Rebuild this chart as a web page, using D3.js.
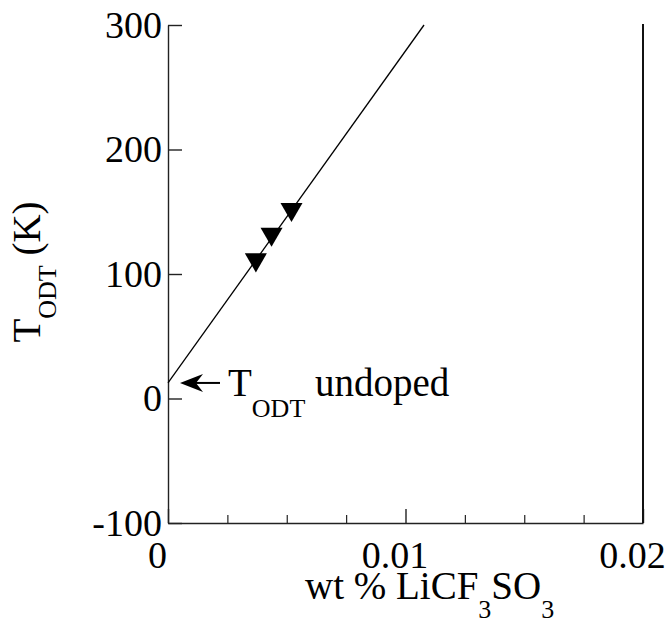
<!DOCTYPE html>
<html>
<head>
<meta charset="utf-8">
<script src="https://cdn.jsdelivr.net/npm/d3@7"></script>
<style>
  body { margin: 0; background: #fff; }
  text { font-family: "Liberation Serif", "Times New Roman", serif; fill: #000; }
</style>
</head>
<body>
<div id="container"></div>
<script>
const width = 670,
  height = 626,
  margin = {top: 25, bottom: 103, left: 168, right: 27};

// data
const wtPercent = [0.0037, 0.00436, 0.0052];
const tOdt = [111.5, 132, 152];
const fitX = [0, 0.01078];
const fitY = [12.5, 300];
const undopedT = 12.5;

const yTicks = [-100, 0, 100, 200, 300];
const xTicks = [0, 0.01, 0.02];
const xMinorTicks = [0.0025, 0.005, 0.0075, 0.0125, 0.015, 0.0175];

const points = wtPercent.map((d, i) => ({x: d, y: tOdt[i]}));
const fitLine = fitX.map((d, i) => ({x: d, y: fitY[i]}));

const xScale = d3.scaleLinear()
  .domain([0, 0.02])
  .range([margin.left, width - margin.right]);

const yScale = d3.scaleLinear()
  .domain([-100, 300])
  .range([height - margin.bottom, margin.top]);

const svg = d3.select("#container")
  .append("svg")
  .attr("width", width)
  .attr("height", height);

// left axis, ticks pointing inward
const yAxis = d3.axisLeft(yScale)
  .tickValues(yTicks)
  .tickFormat(d => String(d))
  .tickSizeInner(-14)
  .tickSizeOuter(0)
  .tickPadding(6);

svg.append("g")
  .attr("class", "yAxis")
  .attr("transform", `translate(${margin.left},0)`)
  .call(yAxis)
  .call(g => g.selectAll("text").attr("font-size", 38).attr("font-family", "Liberation Serif"))
  .call(g => g.selectAll("line, path").attr("stroke", "#222").attr("stroke-width", 1.4));

// bottom axis, major ticks
const xAxis = d3.axisBottom(xScale)
  .tickValues(xTicks)
  .tickFormat(d => d === 0 ? "0" : d3.format(".2f")(d))
  .tickSizeInner(-14)
  .tickSizeOuter(0)
  .tickPadding(18);

svg.append("g")
  .attr("class", "xAxis")
  .attr("transform", `translate(0,${height - margin.bottom})`)
  .call(xAxis)
  .call(g => g.selectAll("text").attr("font-size", 38).attr("font-family", "Liberation Serif").attr("dx", -11))
  .call(g => g.selectAll("line, path").attr("stroke", "#222").attr("stroke-width", 1.4));

// minor ticks
const xMinor = d3.axisBottom(xScale)
  .tickValues(xMinorTicks)
  .tickFormat("")
  .tickSizeInner(-8)
  .tickSizeOuter(0);

svg.append("g")
  .attr("transform", `translate(0,${height - margin.bottom})`)
  .call(xMinor)
  .call(g => g.select(".domain").remove())
  .call(g => g.selectAll("line").attr("stroke", "#222").attr("stroke-width", 1.2));

// right frame line
svg.append("line")
  .attr("x1", xScale(0.02)).attr("x2", xScale(0.02))
  .attr("y1", yScale(300) - 1).attr("y2", yScale(-100))
  .attr("stroke", "#111")
  .attr("stroke-width", 2);

// fitted line
const line = d3.line()
  .x(d => xScale(d.x))
  .y(d => yScale(d.y));

svg.append("path")
  .datum(fitLine)
  .attr("d", line)
  .attr("fill", "none")
  .attr("stroke", "#000")
  .attr("stroke-width", 1.3);

// data points: filled down triangles
svg.selectAll("path.dot")
  .data(points)
  .join("path")
  .attr("class", "dot")
  .attr("d", d3.symbol().type(d3.symbolTriangle).size(210))
  .attr("transform", d => `translate(${xScale(d.x)},${yScale(d.y)}) rotate(180)`)
  .attr("fill", "#000");

// annotation arrow
const ax = xScale(0) + 12,
  ay = yScale(undopedT);

svg.append("line")
  .attr("x1", ax + 10).attr("x2", ax + 40)
  .attr("y1", ay).attr("y2", ay)
  .attr("stroke", "#000")
  .attr("stroke-width", 2);

svg.append("path")
  .attr("d", `M${ax},${ay} L${ax + 23},${ay - 9} L${ax + 16},${ay} L${ax + 23},${ay + 9} Z`)
  .attr("fill", "#000");

const note = svg.append("text")
  .attr("x", ax + 48)
  .attr("y", ay + 13)
  .attr("font-size", 39);
note.append("tspan").text("T");
note.append("tspan").attr("font-size", 26).attr("dy", 21).text("ODT");
note.append("tspan").attr("dy", -21).text(" undoped");

// axis titles
const xTitle = svg.append("text")
  .attr("x", 305)
  .attr("y", 599)
  .attr("font-size", 39);
xTitle.append("tspan").text("wt % LiCF");
xTitle.append("tspan").attr("font-size", 26).attr("dy", 19).text("3");
xTitle.append("tspan").attr("dy", -19).text("SO");
xTitle.append("tspan").attr("font-size", 26).attr("dy", 19).text("3");

const yTitle = svg.append("text")
  .attr("transform", "translate(40,272) rotate(-90)")
  .attr("text-anchor", "middle")
  .attr("font-size", 39);
yTitle.append("tspan").text("T");
yTitle.append("tspan").attr("font-size", 26).attr("dy", 16).text("ODT");
yTitle.append("tspan").attr("dy", -16).text(" (K)");
</script>
</body>
</html>
